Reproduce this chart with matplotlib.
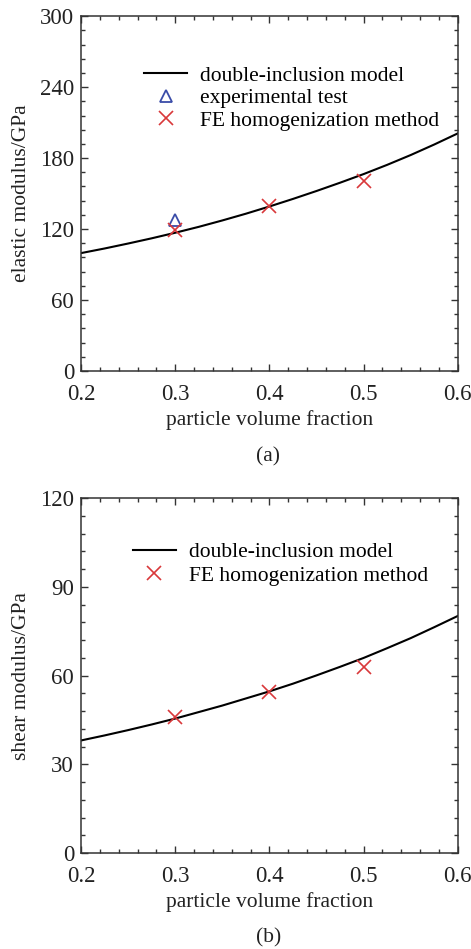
import numpy as np
import matplotlib
matplotlib.use('Agg')
import matplotlib.pyplot as plt
from matplotlib.ticker import MultipleLocator

plt.rcParams['font.family'] = ['Liberation Serif', 'DejaVu Serif']

# curves
vf_curve = [0.2, 0.225, 0.25, 0.275, 0.3, 0.325, 0.35, 0.375, 0.4,
            0.425, 0.45, 0.475, 0.5, 0.525, 0.55, 0.575, 0.6]
E_model = [99.7, 103.6, 107.8, 112.2, 116.9, 121.9, 127.3, 133.0, 139.1,
           145.5, 152.2, 159.2, 166.5, 174.3, 182.6, 191.5, 200.9]
G_model = [38.1, 39.8, 41.6, 43.5, 45.5, 47.7, 49.9, 52.3, 54.7,
           57.3, 60.1, 63.0, 66.0, 69.3, 72.7, 76.4, 80.2]

vf_fe = [0.3, 0.4, 0.5]
E_fe = [118.9, 139.7, 161.0]
G_fe = [45.9, 54.5, 63.1]

vf_exp = [0.3]
E_exp = [128.0]

red = '#d9383a'
blue = '#3a4ca8'

fig = plt.figure(figsize=(4.71, 9.49), dpi=100)
ax1 = fig.add_axes([0.172, 0.609, 0.800, 0.374])
ax2 = fig.add_axes([0.172, 0.101, 0.800, 0.374])


def style(ax, ymax, ymajor, yminor):
    ax.set_xlim(0.2, 0.6)
    ax.set_ylim(0, ymax)
    ax.xaxis.set_major_locator(MultipleLocator(0.1))
    ax.xaxis.set_minor_locator(MultipleLocator(0.02))
    ax.yaxis.set_major_locator(MultipleLocator(ymajor))
    ax.yaxis.set_minor_locator(MultipleLocator(yminor))
    ax.tick_params(which='both', direction='in', top=True, right=True,
                   labelsize=16.5, width=1.0, colors='#333333', labelcolor='#222222')
    ax.tick_params(which='major', length=5, pad=5)
    ax.tick_params(axis='x', which='major', pad=9)
    ax.tick_params(which='minor', length=3)
    for s in ax.spines.values():
        s.set_linewidth(1.1)
        s.set_color('#333333')
    ax.set_xlabel('particle volume fraction', fontsize=15.5, labelpad=4, color='#222222')


ax1.plot(vf_curve, E_model, color='black', lw=1.5, label='double-inclusion model')
ax1.plot(vf_exp, E_exp, ls='none', marker='^', ms=8, mfc='none', mec=blue, mew=1.3,
         label='experimental test')
ax1.plot(vf_fe, E_fe, ls='none', marker='x', ms=10, mec=red, mew=1.2,
         label='FE homogenization method')
style(ax1, 300, 60, 12)
ax1.set_ylabel('elastic modulus/GPa', fontsize=15.5, color='#222222')
ax1.yaxis.set_label_coords(-0.132, 0.5)
ax1.legend(loc='upper left', bbox_to_anchor=(0.145, 0.885), frameon=False, fontsize=15.5,
           handlelength=2.0, handletextpad=0.6, labelspacing=0.12, borderaxespad=0)

ax2.plot(vf_curve, G_model, color='black', lw=1.5, label='double-inclusion model')
ax2.plot(vf_fe, G_fe, ls='none', marker='x', ms=10, mec=red, mew=1.2,
         label='FE homogenization method')
style(ax2, 120, 30, 6)
ax2.set_ylabel('shear modulus/GPa', fontsize=15.5, color='#222222')
ax2.yaxis.set_label_coords(-0.132, 0.5)
ax2.legend(loc='upper left', bbox_to_anchor=(0.115, 0.9), frameon=False, fontsize=15.5,
           handlelength=2.0, handletextpad=0.6, labelspacing=0.15, borderaxespad=0)

fig.text(0.57, 1 - 457 / 949, '(a)', ha='center', va='center', fontsize=15.5, color='#222222')
fig.text(0.57, 1 - 938 / 949, '(b)', ha='center', va='center', fontsize=15.5, color='#222222')

fig.savefig('out.png', dpi=100)
